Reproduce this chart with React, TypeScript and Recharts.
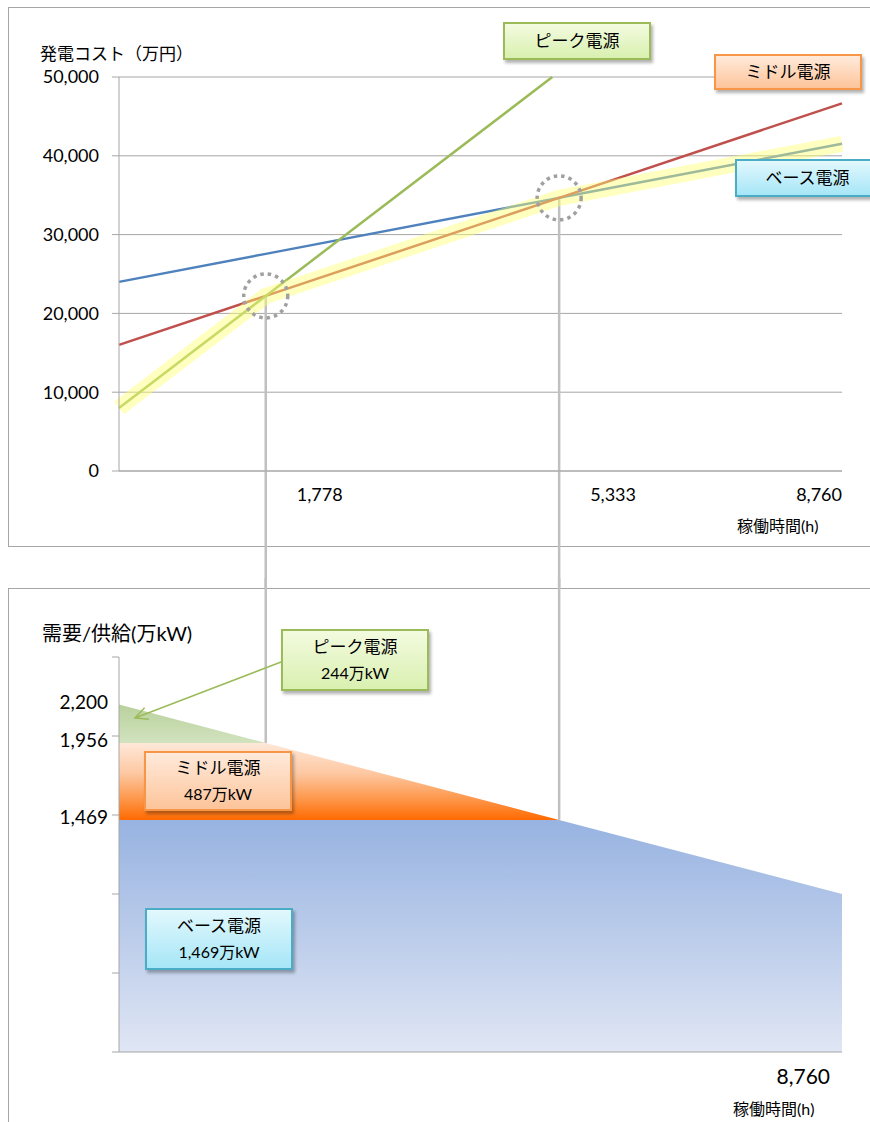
import React from "react";
import {
  LineChart,
  Line,
  AreaChart,
  Area,
  XAxis,
  YAxis,
  CartesianGrid,
  ReferenceLine,
  ReferenceDot,
} from "recharts";

// top chart: generation cost (万円) by operating hours
const hours = [0, 1778, 5250, 5333, 8760];
const peakCost = [8000, 22222, 50000, null, null];
const middleCost = [16000, 22222, 34375, 34666, 46660];
const baseCost = [24000, 27556, 34500, 34666, 41520];
const cheapest = [8000, 22222, null, 34666, 41520];
const costTicks = [0, 10000, 20000, 30000, 40000, 50000];
const hourTicks = [1778, 5333, 8760];
const crossings = [
  { h: 1778, cost: 22222, load: 1956 },
  { h: 5333, cost: 34666, load: 1469 },
];

// bottom chart: load duration (万kW)
const loadHours = [0, 1778, 5333, 8760];
const baseLoad = [1469, 1469, 1469, 1000];
const middleLoad = [487, 487, 0, 0];
const peakLoad = [244, 0, 0, 0];
const loadTicks = [0, 500, 1000, 1469, 1500, 1956, 2000, 2200, 2500];
const loadLabels = [1469, 1956, 2200];
const arrow = { from: { h: 1963, v: 2468 }, to: { h: 194, v: 2114 } };

const costData = hours.map((h, i) => ({
  h,
  peak: peakCost[i],
  middle: middleCost[i],
  base: baseCost[i],
  cheapest: cheapest[i],
}));

const loadData = loadHours.map((h, i) => ({
  h,
  base: baseLoad[i],
  middle: middleLoad[i],
  peak: peakLoad[i],
}));

const fmt = (v: number) => v.toLocaleString("en-US");
const GRAY = "#a6a6a6";
const VLINE = "#c0c0c0";
const FONT = "Lato, 'Noto Sans CJK JP', sans-serif";

const HourTick = (props: any) => {
  const { x, y, payload } = props;
  const last = payload.value === 8760;
  return (
    <text
      x={last ? x : x + 31}
      y={y + 23}
      textAnchor={last ? "end" : "start"}
      dominantBaseline="central"
      fontSize={18}
      fill="#000"
    >
      {fmt(payload.value)}
    </text>
  );
};

const LoadTick = (props: any) => {
  const { x, y, payload } = props;
  const v = payload.value;
  if (loadLabels.includes(v)) {
    return (
      <text x={x - 11} y={y - 3} textAnchor="end" dominantBaseline="central" fontSize={19} fill="#000">
        {fmt(v)}
      </text>
    );
  }
  return <line x1={x - 7} x2={x} y1={y} y2={y} stroke={GRAY} strokeWidth={1} />;
};

const EndTick = (props: any) => {
  const { x, y, payload } = props;
  return (
    <text x={x - 12} y={y + 23} textAnchor="end" dominantBaseline="central" fontSize={21} fill="#000">
      {fmt(payload.value)}
    </text>
  );
};

const ArrowShape = (props: any) => {
  const { x1, y1, x2, y2 } = props;
  const a = Math.atan2(y2 - y1, x2 - x1);
  const len = 14;
  const p1 = [x2 - len * Math.cos(a - 0.45), y2 - len * Math.sin(a - 0.45)];
  const p2 = [x2 - len * Math.cos(a + 0.45), y2 - len * Math.sin(a + 0.45)];
  return (
    <g stroke="#9bbb59" strokeWidth={1.5} fill="none">
      <line x1={x1} y1={y1} x2={x2} y2={y2} />
      <polyline points={`${p1[0]},${p1[1]} ${x2},${y2} ${p2[0]},${p2[1]}`} />
    </g>
  );
};

const boxStyle = (
  left: number,
  top: number,
  width: number,
  height: number,
  background: string,
  border: string
): React.CSSProperties => ({
  position: "absolute",
  left,
  top,
  width,
  height,
  boxSizing: "border-box",
  border: `2px solid ${border}`,
  background,
  boxShadow: "2px 3px 3px rgba(0,0,0,0.3)",
  display: "flex",
  flexDirection: "column",
  alignItems: "center",
  justifyContent: "center",
  fontSize: 17,
  lineHeight: "26px",
  color: "#000",
});

const GREEN_BG = "linear-gradient(#f3fbdf, #d9f0b0)";
const ORANGE_BG = "linear-gradient(#ffeadb, #fdc49a)";
const BLUE_BG = "linear-gradient(#e2f8fd, #a6e6f7)";

export default function App() {
  return (
    <div
      style={{
        position: "fixed",
        left: 0,
        top: 0,
        width: 870,
        height: 1122,
        overflow: "hidden",
        background: "#fff",
        fontFamily: FONT,
      }}
    >
      <style>{`.recharts-surface{overflow:visible}`}</style>

      {/* frames */}
      <div style={{ position: "absolute", left: 8, top: 7, width: 900, height: 540, border: `1px solid ${GRAY}`, boxSizing: "border-box" }} />
      <div style={{ position: "absolute", left: 8, top: 588, width: 900, height: 600, border: `1px solid ${GRAY}`, boxSizing: "border-box" }} />

      {/* top chart */}
      <div style={{ position: "absolute", left: 8, top: 7 }}>
        <LineChart width={862} height={581} data={costData} margin={{ top: 70, right: 28, bottom: 87, left: 0 }}>
          <CartesianGrid horizontal vertical={false} stroke={GRAY} />
          <XAxis
            dataKey="h"
            type="number"
            domain={[0, 8760]}
            ticks={hourTicks}
            interval={0}
            tick={<HourTick />}
            tickLine={false}
            tickSize={0}
            tickMargin={0}
            height={30}
            axisLine={{ stroke: GRAY }}
          />
          <YAxis
            type="number"
            domain={[0, 50000]}
            ticks={costTicks}
            interval={0}
            tickFormatter={fmt}
            width={111}
            tickSize={7}
            tickMargin={13}
            tick={{ fontSize: 18, fill: "#000" }}
            tickLine={{ stroke: GRAY }}
            axisLine={{ stroke: GRAY }}
          />
          {crossings.map((c) => (
            <ReferenceLine
              key={c.h}
              segment={[
                { x: c.h, y: c.cost },
                { x: c.h, y: -15000 },
              ]}
              stroke={VLINE}
              strokeWidth={2.5}
              ifOverflow="visible"
            />
          ))}
          <Line dataKey="base" stroke="#4f81bd" strokeWidth={2.5} dot={false} activeDot={false} connectNulls isAnimationActive={false} />
          <Line dataKey="middle" stroke="#c0504d" strokeWidth={2.5} dot={false} activeDot={false} connectNulls isAnimationActive={false} />
          <Line dataKey="peak" stroke="#9bbb59" strokeWidth={2.5} dot={false} activeDot={false} isAnimationActive={false} />
          <Line
            dataKey="cheapest"
            stroke="#ffff70"
            strokeOpacity={0.45}
            strokeWidth={16}
            strokeLinecap="butt"
            dot={false}
            activeDot={false}
            connectNulls
            isAnimationActive={false}
          />
          {crossings.map((c) => (
            <ReferenceDot
              key={`c${c.h}`}
              x={c.h}
              y={c.cost}
              r={22}
              fill="none"
              stroke="#a0a0a0"
              strokeWidth={3.5}
              strokeDasharray="3.5 4"
              ifOverflow="visible"
            />
          ))}
        </LineChart>
      </div>

      {/* bottom chart */}
      <div style={{ position: "absolute", left: 8, top: 588 }}>
        <AreaChart width={862} height={534} data={loadData} margin={{ top: 69, right: 28, bottom: 30, left: 0 }}>
          <defs>
            <linearGradient id="gBase" x1="0" y1="0" x2="0" y2="1">
              <stop offset="0%" stopColor="#97b3e1" />
              <stop offset="100%" stopColor="#e0e6f4" />
            </linearGradient>
            <linearGradient id="gMiddle" x1="0" y1="0" x2="0" y2="1">
              <stop offset="0%" stopColor="#ffe8d9" />
              <stop offset="20%" stopColor="#fdc8a2" />
              <stop offset="38%" stopColor="#fd9446" />
              <stop offset="51%" stopColor="#ff6a00" />
              <stop offset="100%" stopColor="#ff6a00" />
            </linearGradient>
            <linearGradient id="gPeak" x1="0" y1="0" x2="0" y2="1">
              <stop offset="0%" stopColor="#b9d19c" />
              <stop offset="20%" stopColor="#d1e2be" />
              <stop offset="100%" stopColor="#d1e2be" />
            </linearGradient>
          </defs>
          <XAxis
            dataKey="h"
            type="number"
            domain={[0, 8760]}
            ticks={[8760]}
            interval={0}
            tick={<EndTick />}
            tickLine={false}
            tickSize={0}
            tickMargin={0}
            height={40}
            axisLine={{ stroke: GRAY }}
          />
          <YAxis
            type="number"
            domain={[0, 2500]}
            ticks={loadTicks}
            interval={0}
            tick={<LoadTick />}
            tickLine={false}
            tickSize={0}
            tickMargin={0}
            width={111}
            axisLine={{ stroke: GRAY }}
          />
          <Area type="linear" dataKey="base" stackId="1" stroke="none" fill="url(#gBase)" fillOpacity={1} isAnimationActive={false} />
          <Area type="linear" dataKey="middle" stackId="1" stroke="none" fill="url(#gMiddle)" fillOpacity={1} isAnimationActive={false} />
          <Area type="linear" dataKey="peak" stackId="1" stroke="none" fill="url(#gPeak)" fillOpacity={1} isAnimationActive={false} />
          {crossings.map((c) => (
            <ReferenceLine
              key={c.h}
              segment={[
                { x: c.h, y: 3000 },
                { x: c.h, y: c.load },
              ]}
              stroke={VLINE}
              strokeWidth={2.5}
              ifOverflow="visible"
            />
          ))}
          <ReferenceLine
            segment={[
              { x: arrow.from.h, y: arrow.from.v },
              { x: arrow.to.h, y: arrow.to.v },
            ]}
            shape={<ArrowShape />}
            ifOverflow="visible"
          />
        </AreaChart>
      </div>

      {/* axis titles */}
      <div style={{ position: "absolute", left: 40, top: 40, fontSize: 17, whiteSpace: "nowrap" }}>発電コスト（万円）</div>
      <div style={{ position: "absolute", left: 737, top: 513, fontSize: 16, whiteSpace: "nowrap" }}>稼働時間(h)</div>
      <div style={{ position: "absolute", left: 42, top: 618, fontSize: 20, whiteSpace: "nowrap" }}>需要/供給(万kW)</div>
      <div style={{ position: "absolute", left: 733, top: 1096, fontSize: 16, whiteSpace: "nowrap" }}>稼働時間(h)</div>

      {/* series labels, top */}
      <div style={boxStyle(503, 22, 148, 38, GREEN_BG, "#9bbb59")}>ピーク電源</div>
      <div style={boxStyle(714, 54, 148, 36, ORANGE_BG, "#f79646")}>ミドル電源</div>
      <div style={boxStyle(735, 159, 145, 38, BLUE_BG, "#4bacc6")}>ベース電源</div>

      {/* series labels, bottom */}
      <div style={boxStyle(281, 629, 148, 62, GREEN_BG, "#9bbb59")}>
        <span>ピーク電源</span>
        <span style={{ fontSize: 16 }}>244万kW</span>
      </div>
      <div style={boxStyle(144, 751, 148, 60, ORANGE_BG, "#f79646")}>
        <span>ミドル電源</span>
        <span style={{ fontSize: 16 }}>487万kW</span>
      </div>
      <div style={boxStyle(145, 908, 148, 62, BLUE_BG, "#4bacc6")}>
        <span>ベース電源</span>
        <span style={{ fontSize: 16 }}>1,469万kW</span>
      </div>
    </div>
  );
}
